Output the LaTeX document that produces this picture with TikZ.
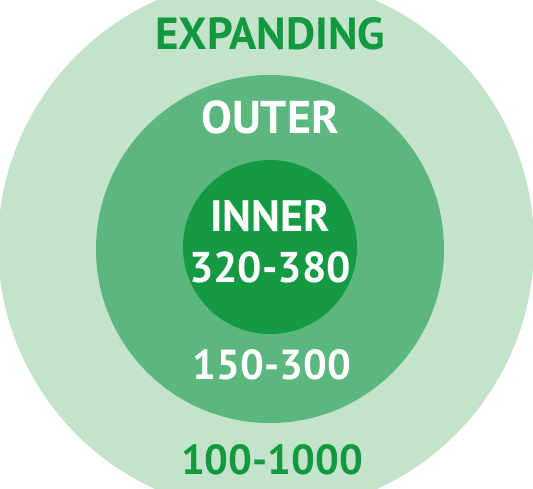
\documentclass[tikz,border=0pt]{standalone}
\usepackage{fontspec}
\setmainfont{PT Sans}
\definecolor{ringlight}{HTML}{C3E3CB}
\definecolor{ringmid}{HTML}{5BB77E}
\definecolor{ringdark}{HTML}{139A42}
\definecolor{labelgreen}{HTML}{12993F}
\begin{document}
\begin{tikzpicture}[x=1pt,y=-1pt]
\useasboundingbox (0,0) rectangle (533,489);
\clip (0,0) rectangle (533,489);
\fill[white] (0,0) rectangle (533,489);

\fill[ringlight] (266,245) circle (268);
\fill[ringmid] (270,249) circle (174);
\fill[ringdark] (270,247) circle (87);

\node[font=\bfseries\fontsize{45}{45}\selectfont,text=labelgreen] (expanding) at (270,34) {EXPANDING};
\node[font=\bfseries\fontsize{46}{46}\selectfont,text=white] (outer) at (270,117) {OUTER};
\node[font=\bfseries\fontsize{44}{44}\selectfont,text=white] (inner) at (270,216) {INNER};
\node[font=\bfseries\fontsize{43}{43}\selectfont,text=white] (innerrange) at (270,267) {320-380};
\node[font=\bfseries\fontsize{42}{42}\selectfont,text=white] (outerrange) at (272,365) {150-300};
\node[font=\bfseries\fontsize{42}{42}\selectfont,text=labelgreen] (exprange) at (272,460) {100-1000};
\end{tikzpicture}
\end{document}
